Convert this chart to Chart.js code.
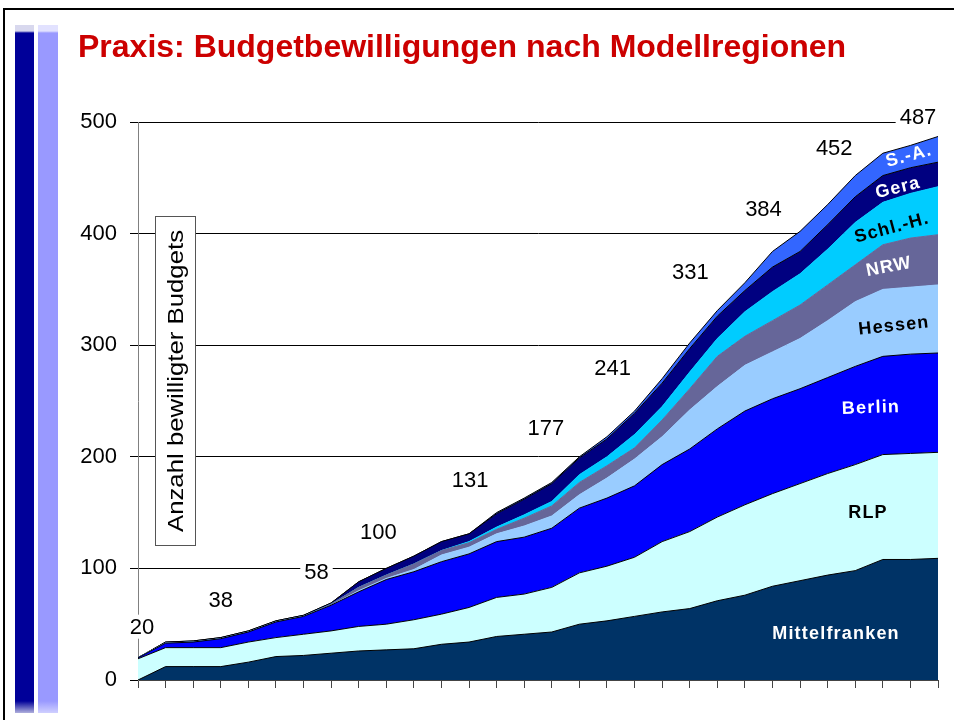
<!DOCTYPE html>
<html><head><meta charset="utf-8">
<script src="https://cdn.jsdelivr.net/npm/chart.js@4.4.1/dist/chart.umd.min.js"></script>
<style>
html,body{margin:0;padding:0;background:#fff;}
#wrap{position:relative;width:954px;height:720px;overflow:hidden;background:#fff;}
canvas{position:absolute;left:0;top:0;}
#frame{position:absolute;left:3px;top:8px;width:980px;height:760px;border-top:2px solid #000;border-left:2px solid #000;}
.bar{position:absolute;top:25px;height:688px;}
#bar1{left:15px;width:19px;background:linear-gradient(to bottom,#d8d8ee 0px,#d8d8ee 6px,#000099 8px,#000099 676px,#b0b0dd 688px);}
#bar2{left:38px;width:20px;background:linear-gradient(to bottom,#e2e2ff 0px,#e2e2ff 6px,#9999ff 8px,#9999ff 676px,#d0d0ff 688px);}
#title{position:absolute;left:78px;top:28px;font:bold 32px 'Liberation Sans',Arial,sans-serif;color:#cc0000;white-space:nowrap;line-height:normal;}
</style></head><body>
<div id="wrap">
<canvas id="c" width="954" height="720"></canvas>
<div id="frame"></div>
<div class="bar" id="bar1"></div><div class="bar" id="bar2"></div>
<div id="title">Praxis: Budgetbewilligungen nach Modellregionen</div>
</div>
<script>
// ---- data ----
const categories = ["1","2","3","4","5","6","7","8","9","10","11","12","13","14","15","16","17","18","19","20","21","22","23","24","25","26","27","28","29","30"];
const seriesNames = ["Mittelfranken","RLP","Berlin","Hessen","NRW","Schl.-H.","Gera","S.-A."];
const mittelfranken = [0,12,12,12,16,21,22,24,26,27,28,32,34,39,41,43,50,53,57,61,64,71,76,84,89,94,98,108,108,109];
const rlp           = [19,17,17,17,18,17,19,20,22,23,26,27,31,35,36,40,46,49,53,63,69,75,81,83,87,91,95,94,95,95];
const berlin        = [1,4,5,8,9,14,16,23,31,40,43,47,48,50,51,53,58,61,64,69,74,79,84,85,85,86,88,88,89,89];
const hessen        = [0,0,0,0,0,0,0,0,1,1,2,6,6,7,10,11,12,18,24,25,35,38,41,42,45,51,58,60,60,61];
const nrw           = [0,0,0,0,0,0,0,1,3,3,5,4,4,4,7,9,11,11,10,15,19,27,26,28,30,32,33,40,44,45];
const schlH         = [0,0,0,0,0,0,0,0,0,0,0,0,1,2,3,4,7,8,12,12,15,16,22,26,28,32,38,38,40,43];
const gera          = [0,1,1,1,1,1,1,1,5,6,7,8,7,12,14,16,15,16,19,21,21,20,19,22,20,22,23,24,23,22];
const sachsenAnh    = [0,0,0,0,0,0,0,0,0,0,0,0,0,1,1,1,1,2,2,4,5,5,7,14,18,18,19,20,20,23];
const yTicks = [0,100,200,300,400,500];
const totalLabels = [20,38,58,100,131,177,241,331,384,452,487];
const totalLabelIndex = [0,3,6,9,12,15,18,21,23,26,29];
const axisTitle = "Anzahl bewilligter Budgets";

// ---- styles / layout ----
const FONT = "'Liberation Sans', Arial, sans-serif";
const colors = ["#003366","#CCFFFF","#0000FF","#99CCFF","#666699","#00CCFF","#000080","#3366FF"];
const borders = ["#000","#000","#000","#99CCFF","#666699","#00CCFF","#000","#000"];
const totalLabelOffsets = [[4,-31],[0,-38],[13,-43],[-8,-36],[1,-54],[-6,-55],[-22,-43],[-27,-39],[-9,-43],[-21,-28],[-20,-20]];
const bandLabels = [
  {t:"Mittelfranken", x:836, y:634, r:0,   c:"#fff"},
  {t:"RLP",           x:868, y:513, r:0,   c:"#000"},
  {t:"Berlin",        x:871, y:408, r:-2,  c:"#fff"},
  {t:"Hessen",        x:894, y:326, r:-6,  c:"#000"},
  {t:"NRW",           x:889, y:267, r:-11, c:"#fff"},
  {t:"Schl.-H.",      x:892, y:228, r:-15, c:"#000"},
  {t:"Gera",          x:898, y:188, r:-14, c:"#fff"},
  {t:"S.-A.",         x:909, y:156, r:-15, c:"#fff"}
];

const values = [mittelfranken, rlp, berlin, hessen, nrw, schlH, gera, sachsenAnh];
const datasets = values.map((v,i)=>({
  label: seriesNames[i],
  data: v,
  backgroundColor: colors[i],
  borderColor: borders[i],
  borderWidth: 1,
  fill: i===0 ? 'origin' : '-1',
  pointRadius: 0,
  tension: 0
}));

const annot = {
  id:'annot',
  afterDraw(chart){
    const ctx = chart.ctx, xs = chart.scales.x, ys = chart.scales.y;
    ctx.save();
    // axis title box
    ctx.fillStyle = '#fff';
    ctx.fillRect(155.5, 216.5, 40, 329);
    ctx.strokeStyle = '#555'; ctx.lineWidth = 1;
    ctx.strokeRect(155.5, 216.5, 40, 329);
    ctx.translate(176, 381);
    ctx.rotate(-Math.PI/2);
    ctx.font = '22px ' + FONT;
    ctx.textAlign = 'center'; ctx.textBaseline = 'middle';
    const w0 = ctx.measureText(axisTitle).width;
    ctx.scale(302 / w0, 1);
    ctx.fillStyle = '#000';
    ctx.fillText(axisTitle, 0, 1);
    ctx.restore();

    // total labels
    ctx.save();
    ctx.font = '22px ' + FONT;
    ctx.textAlign = 'center'; ctx.textBaseline = 'middle';
    totalLabels.forEach((val,k)=>{
      const x = xs.getPixelForValue(totalLabelIndex[k]) + totalLabelOffsets[k][0];
      const y = ys.getPixelForValue(val) + totalLabelOffsets[k][1];
      const s = String(val);
      const w = ctx.measureText(s).width;
      ctx.fillStyle = '#fff';
      ctx.fillRect(x - w/2 - 4, y - 12, w + 8, 24);
      ctx.fillStyle = '#000';
      ctx.fillText(s, x, y + 1);
    });
    ctx.restore();

    // band labels
    bandLabels.forEach(b=>{
      ctx.save();
      ctx.translate(b.x, b.y);
      ctx.rotate(b.r * Math.PI/180);
      ctx.font = 'bold 18px ' + FONT;
      try { ctx.letterSpacing = '1.2px'; } catch(e) {}
      ctx.textAlign = 'center'; ctx.textBaseline = 'middle';
      ctx.fillStyle = b.c;
      ctx.fillText(b.t, 0, 0);
      ctx.restore();
    });
  }
};

new Chart(document.getElementById('c'), {
  type: 'line',
  data: { labels: categories, datasets },
  options: {
    responsive: false,
    devicePixelRatio: 1,
    animation: false,
    layout: { padding: { left: 0, top: 122, right: 16, bottom: 0 } },
    plugins: { legend: { display: false }, tooltip: { enabled: false }, title: { display: false } },
    elements: { line: { borderJoinStyle: 'miter' } },
    scales: {
      x: {
        type: 'category',
        offset: false,
        grid: { display: true, drawOnChartArea: false, drawTicks: true, tickLength: 8, color: '#444', lineWidth: 1 },
        border: { display: true, color: '#444', width: 1 },
        ticks: { display: false, autoSkip: false },
        afterFit(s){ s.height = 40; }
      },
      y: {
        stacked: true,
        min: yTicks[0], max: yTicks[yTicks.length-1],
        afterBuildTicks(s){ s.ticks = yTicks.map(v=>({value:v})); },
        ticks: { color: '#000', font: { family: FONT, size: 22 }, padding: 13 },
        grid: { color: '#000', lineWidth: 1, tickLength: 8, drawTicks: true },
        border: { display: true, color: '#808080', width: 1 },
        afterFit(s){ s.width = 138; }
      }
    }
  },
  plugins: [annot]
});
</script>
</body></html>
